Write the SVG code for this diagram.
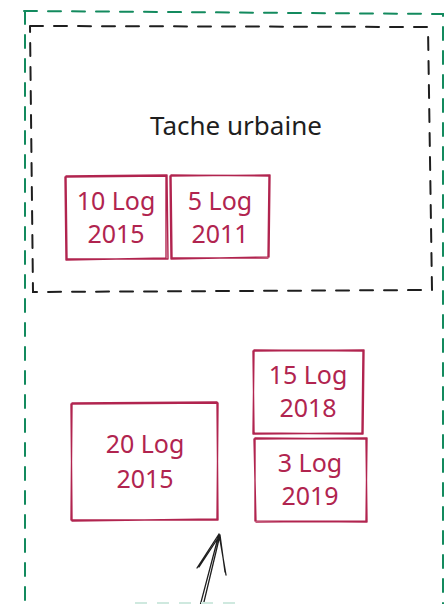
<svg xmlns="http://www.w3.org/2000/svg" width="446" height="604" viewBox="0 0 446 604">
<style>
  .zone-green { fill: none; stroke: #138a5e; stroke-width: 2; stroke-dasharray: 13 11; stroke-linecap: round; }
  .zone-black { fill: none; stroke: #1e1e1e; stroke-width: 2; stroke-dasharray: 13 11; stroke-linecap: round; }
  .box { fill: none; stroke: #b1244f; stroke-width: 1.4; stroke-linejoin: round; }
  .lbl { font-family: "Comic Sans MS", "Noto Sans", "Liberation Sans", sans-serif; font-size: 25px; fill: #b1244f; text-anchor: middle; }
  .title { font-family: "Comic Sans MS", "Noto Sans", "Liberation Sans", sans-serif; font-size: 26px; fill: #1e1e1e; text-anchor: middle; }
  .arrow { fill: none; stroke: #1e1e1e; stroke-width: 1.3; stroke-linecap: round; }
</style>
<rect width="446" height="604" fill="#ffffff"/>

<g id="zone-commune">
  <path class="zone-green" d="M24 11 L443 14 L443 620 M25 11 L25 620"/>
</g>

<g id="tache-urbaine">
  <path class="zone-black" d="M30 26 L428 27 L432 290 L33 292 L30 26"/>
  <text class="title" x="236" y="135">Tache urbaine</text>
</g>

<g id="n10log2015">
  <path class="box" d="M66 176 L167 175 L168 259 L67 259 Z M65 177 L166 176 L166 258 L66 260 Z"/>
  <text class="lbl" x="116" y="210">10 Log</text>
  <text class="lbl" x="116" y="243">2015</text>
</g>

<g id="n5log2011">
  <path class="box" d="M171 175 L269 176 L268 258 L172 258 Z M170 176 L270 175 L269 257 L171 259 Z"/>
  <text class="lbl" x="220" y="210">5 Log</text>
  <text class="lbl" x="220" y="243">2011</text>
</g>

<g id="n15log2018">
  <path class="box" d="M254 350 L363 351 L362 433 L253 434 Z M253 351 L364 350 L363 434 L254 433 Z"/>
  <text class="lbl" x="308" y="384">15 Log</text>
  <text class="lbl" x="308" y="417">2018</text>
</g>

<g id="n3log2019">
  <path class="box" d="M255 438 L366 439 L367 522 L255 521 Z M254 439 L367 438 L366 521 L256 522 Z"/>
  <text class="lbl" x="310" y="472">3 Log</text>
  <text class="lbl" x="310" y="505">2019</text>
</g>

<g id="n20log2015">
  <path class="box" d="M72 403 L217 402 L218 520 L71 520 Z M71 404 L218 403 L217 519 L72 521 Z"/>
  <text class="lbl" x="145" y="453">20 Log</text>
  <text class="lbl" x="145" y="488">2015</text>
</g>

<g id="connectors">
  <path class="arrow" d="M200 606 L219 534 M203 606 L220 535 M219 534 L197 568 M220 535 L199 567 M219 534 L226 575 M220 535 L225 572"/>
  <path d="M135 603 L240 603" fill="none" stroke="#cfe9df" stroke-width="2" stroke-dasharray="12 10"/>
</g>
</svg>
